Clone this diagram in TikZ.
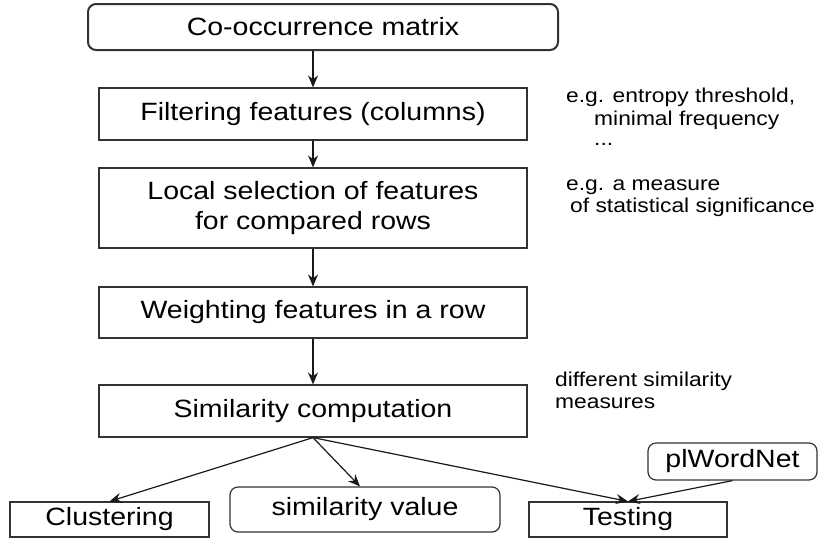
\documentclass[tikz,border=0pt]{standalone}
\usepackage{fontspec}
\setmainfont{Liberation Sans}[FakeStretch=1.14]
\usetikzlibrary{arrows.meta}

\newcommand\boxfont{\fontsize{25}{30}\selectfont}
\newcommand\notefont{\fontsize{20}{22}\selectfont}

\begin{document}
\begin{tikzpicture}[x=1pt,y=-1pt,
  box/.style={draw=black!80, line width=1.2pt, fill=white, inner sep=0pt,
    minimum width=428pt, minimum height=52pt, align=center, font=\boxfont},
  rbox/.style={box, rounded corners=8pt},
  note/.style={anchor=base west, inner sep=0pt, font=\notefont},
  arr/.style={-{Stealth[length=12pt,width=10pt,inset=4pt]}, line width=1.2pt, draw=black!90}]
\useasboundingbox (0,0) rectangle (819,539);

% main pipeline
\node[rbox, line width=2pt, minimum width=470pt, minimum height=46pt] (cooc) at (323,27) {Co-occurrence matrix};
\node[box] (filt) at (313,114) {Filtering features (columns)};
\node[box, minimum height=80pt] (local) at (313,208) {Local selection of features\\for compared rows};
\node[box, minimum height=51pt] (weight) at (313,312.5) {Weighting features in a row};
\node[box] (sim) at (313,411) {Similarity computation};

% outputs
\node[box, minimum width=199pt, minimum height=35pt] (clust) at (109.5,519.5) {Clustering};
\node[rbox, minimum width=270pt, minimum height=45pt] (simval) at (365,509.5) {similarity value};
\node[box, minimum width=198pt, minimum height=35pt] (test) at (628,519.5) {Testing};
\node[rbox, minimum width=169pt, minimum height=37pt] (plwn) at (732.5,461.5) {plWordNet};

% side notes
\node[note] (n1) at (566,102) {e.g. entropy threshold,};
\node[note] (n2) at (594,125) {minimal frequency};
\node[note] (n3) at (594,145) {...};
\node[note] (n4) at (566,190) {e.g. a measure};
\node[note] (n5) at (570,212) {of statistical significance};
\node[note] (n6) at (555,386) {different similarity};
\node[note] (n7) at (555,408) {measures};

% connectors
\draw[arr] (filt.north |- cooc.south) -- (filt.north);
\draw[arr] (filt.south) -- (local.north);
\draw[arr] (local.south) -- (weight.north);
\draw[arr] (weight.south) -- (sim.north);
\draw[arr] (sim.south) -- (clust.north);
\draw[arr] (sim.south) -- ([xshift=-5pt]simval.north);
\draw[arr] (sim.south) -- (test.north);
\draw[arr] (plwn.south) -- (test.north);
\end{tikzpicture}
\end{document}
